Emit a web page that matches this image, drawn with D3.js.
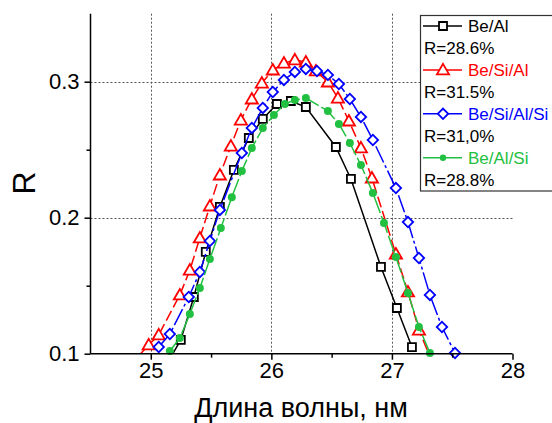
<!DOCTYPE html>
<html lang="ru">
<head>
<meta charset="utf-8"/>
<title>R vs wavelength</title>
<script src="https://cdnjs.cloudflare.com/ajax/libs/d3/7.8.5/d3.min.js"></script>
<style>
  body { margin: 0; background: #fff; }
  svg { font-family: "Liberation Sans", Arial, sans-serif; }
</style>
</head>
<body>
<svg id="chart" width="552" height="423"></svg>
<script>
// ---- data ----
var seriesNames = ["Be/Al", "Be/Si/Al", "Be/Si/Al/Si", "Be/Al/Si"];
var peakLabels  = ["R=28.6%", "R=31.5%", "R=31,0%", "R=28.8%"];

var beAlX = [25.13, 25.249, 25.357, 25.456, 25.573, 25.689, 25.813, 25.929, 26.046, 26.162, 26.286, 26.535, 26.660, 26.909, 27.041, 27.166];
var beAlR = [0.092, 0.1101, 0.1417, 0.1748, 0.2079, 0.2351, 0.2586, 0.2726, 0.2836, 0.2858, 0.2814, 0.2520, 0.2285, 0.1638, 0.1336, 0.1049];

var beSiAlX = [24.90, 24.983, 25.066, 25.241, 25.324, 25.407, 25.490, 25.573, 25.664, 25.747, 25.838, 25.921, 26.012, 26.104, 26.195, 26.286, 26.369, 26.469, 26.552, 26.643, 26.743, 26.834, 27.033, 27.133, 27.224, 27.315];
var beSiAlR = [0.0985, 0.1065, 0.1138, 0.1432, 0.1615, 0.1851, 0.2086, 0.2314, 0.2527, 0.2718, 0.2873, 0.2990, 0.3086, 0.3137, 0.3160, 0.3145, 0.3079, 0.2998, 0.2880, 0.2711, 0.2513, 0.2292, 0.1733, 0.1454, 0.1174, 0.098];

var beSiAlSiX = [25.066, 25.158, 25.315, 25.407, 25.490, 25.573, 25.755, 25.838, 25.929, 26.012, 26.104, 26.195, 26.286, 26.378, 26.469, 26.560, 26.651, 26.743, 26.842, 27.033, 27.133, 27.224, 27.315, 27.415, 27.523];
var beSiAlSiR = [0.1049, 0.1145, 0.1417, 0.1601, 0.1829, 0.2057, 0.2476, 0.2660, 0.2807, 0.2924, 0.3013, 0.3072, 0.3094, 0.3079, 0.3050, 0.2983, 0.2873, 0.2741, 0.2571, 0.2218, 0.1968, 0.1704, 0.1432, 0.1196, 0.1005];

var beAlSiX = [25.158, 25.241, 25.324, 25.407, 25.490, 25.581, 25.672, 25.755, 25.838, 25.929, 26.021, 26.112, 26.195, 26.286, 26.469, 26.560, 26.651, 26.743, 26.842, 26.934, 27.033, 27.133, 27.224, 27.315];
var beAlSiR = [0.1020, 0.1115, 0.1292, 0.1483, 0.1696, 0.1924, 0.2151, 0.2343, 0.2512, 0.2659, 0.2755, 0.2836, 0.2865, 0.2880, 0.2784, 0.2689, 0.2549, 0.2387, 0.2181, 0.1961, 0.1711, 0.1446, 0.1196, 0.1005];

var xMajor = [25, 26, 27, 28];
var xMinor = [25.5, 26.5, 27.5];
var yMajor = [0.1, 0.2, 0.3];
var yMinor = [0.15, 0.25];
var xTitle = "Длина волны, нм";
var yTitle = "R";

// ---- styles ----
var styles = [
  { color: "#000000", dash: null,        marker: "square"   },
  { color: "#ff0000", dash: "11,4",      marker: "triangle" },
  { color: "#0000ff", dash: "18,3,3,3",  marker: "diamond"  },
  { color: "#22c040", dash: "18,3",      marker: "circle"   }
];
var series = [
  { x: beAlX,     y: beAlR },
  { x: beSiAlX,   y: beSiAlR },
  { x: beSiAlSiX, y: beSiAlSiR },
  { x: beAlSiX,   y: beAlSiR }
];

var svg = d3.select("#chart");
var x = d3.scaleLinear().domain([24.5, 28]).range([90.5, 512.5]);
var y = d3.scaleLinear().domain([0.1, 0.35]).range([353.7, 13.7]);

svg.append("defs").append("clipPath").attr("id", "plotclip")
  .append("rect").attr("x", x(24.5)).attr("y", y(0.35))
  .attr("width", x(28) - x(24.5)).attr("height", y(0.1) - y(0.35));

// grid (dotted)
var grid = svg.append("g").attr("stroke", "#555").attr("stroke-width", 1).attr("stroke-dasharray", "2,2");
grid.selectAll("line.vx").data([25, 26, 27]).enter().append("line")
  .attr("x1", function(d) { return Math.round(x(d)) + 0.5; })
  .attr("x2", function(d) { return Math.round(x(d)) + 0.5; })
  .attr("y1", y(0.35)).attr("y2", y(0.1));
grid.selectAll("line.hy").data([0.2, 0.3]).enter().append("line")
  .attr("y1", function(d) { return Math.round(y(d)) + 0.5; })
  .attr("y2", function(d) { return Math.round(y(d)) + 0.5; })
  .attr("x1", x(24.5)).attr("x2", x(28));

// curves
var line = d3.line().x(function(d) { return x(d[0]); }).y(function(d) { return y(d[1]); });
var sym = {
  square:   d3.symbol().type(d3.symbolSquare).size(64),
  triangle: d3.symbol().type(d3.symbolTriangle).size(64),
  diamond:  d3.symbol().type(d3.symbolSquare).size(54),
  circle:   d3.symbol().type(d3.symbolCircle).size(50)
};

function markerTransform(st, px, py) {
  var t = "translate(" + px + "," + py + ")";
  if (st.marker === "diamond") t += " rotate(45)";
  if (st.marker === "triangle") t += " translate(0,1)";
  return t;
}

series.forEach(function(s, i) {
  var st = styles[i];
  var pts = s.x.map(function(v, k) { return [v, s.y[k]]; });
  svg.append("path").datum(pts)
    .attr("clip-path", "url(#plotclip)")
    .attr("fill", "none").attr("stroke", st.color).attr("stroke-width", 1.5)
    .attr("stroke-dasharray", st.dash)
    .attr("d", line);
  var inside = pts.filter(function(p) { return p[1] >= 0.1; });
  svg.append("g").selectAll("path").data(inside).enter().append("path")
    .attr("d", sym[st.marker]())
    .attr("transform", function(p) { return markerTransform(st, x(p[0]), y(p[1])); })
    .attr("fill", st.marker === "circle" ? st.color : "#fff")
    .attr("stroke", st.marker === "circle" ? "none" : st.color)
    .attr("stroke-width", 1.8);
});

// axes
function styleAxis(g) {
  g.selectAll("path.domain").attr("stroke", "#000").attr("stroke-width", 1.5);
  g.selectAll(".tick line").attr("stroke", "#000").attr("stroke-width", 1.5);
  g.selectAll("text").attr("font-size", 22).attr("fill", "#000")
    .attr("font-family", "'Liberation Sans', Arial, sans-serif");
}
var xAxis = svg.append("g").attr("transform", "translate(0," + y(0.1) + ")")
  .call(d3.axisBottom(x).tickValues(xMajor).tickSize(6).tickPadding(3).tickFormat(d3.format("d")));
styleAxis(xAxis);
var xAxisMinor = svg.append("g").attr("transform", "translate(0," + y(0.1) + ")")
  .call(d3.axisBottom(x).tickValues(xMinor).tickSize(4).tickFormat(""));
xAxisMinor.select("path.domain").remove();
styleAxis(xAxisMinor);

var yAxis = svg.append("g").attr("transform", "translate(" + x(24.5) + ",0)")
  .call(d3.axisLeft(y).tickValues(yMajor).tickSize(6).tickPadding(5).tickFormat(d3.format(".1f")));
styleAxis(yAxis);
var yAxisMinor = svg.append("g").attr("transform", "translate(" + x(24.5) + ",0)")
  .call(d3.axisLeft(y).tickValues(yMinor).tickSize(4).tickFormat(""));
yAxisMinor.select("path.domain").remove();
styleAxis(yAxisMinor);
xAxis.selectAll("path.domain").attr("d", "M" + x(24.5) + ",0H" + x(28));
yAxis.selectAll("path.domain").attr("d", "M0," + y(0.35) + "V" + y(0.1));

// titles
svg.append("text").attr("x", 301).attr("y", 417).attr("text-anchor", "middle")
  .attr("font-size", 27).text(xTitle);
svg.append("text").attr("transform", "translate(35,183) rotate(-90)")
  .attr("text-anchor", "middle").attr("font-size", 32).text(yTitle);

// legend
var lg = svg.append("g");
lg.append("rect").attr("x", 420.5).attr("y", 15.5).attr("width", 140).attr("height", 175.5)
  .attr("fill", "#fff").attr("stroke", "#333").attr("stroke-width", 1.2);
seriesNames.forEach(function(name, i) {
  var st = styles[i];
  var base = 32 + i * 43.9;
  var my = base - 6;
  lg.append("line").attr("x1", 423).attr("x2", 462).attr("y1", my).attr("y2", my)
    .attr("stroke", st.color).attr("stroke-width", 1.5);
  lg.append("path").attr("d", sym[st.marker]())
    .attr("transform", markerTransform(st, 443, my) + (st.marker === "circle" ? " scale(0.8)" : ""))
    .attr("fill", st.marker === "circle" ? st.color : "#fff")
    .attr("stroke", st.marker === "circle" ? "none" : st.color)
    .attr("stroke-width", 1.8);
  lg.append("text").attr("x", 468).attr("y", base).attr("font-size", 17)
    .attr("fill", st.color).text(name);
  lg.append("text").attr("x", 424).attr("y", base + 22).attr("font-size", 17)
    .attr("fill", "#000").text(peakLabels[i]);
});
</script>
</body>
</html>
